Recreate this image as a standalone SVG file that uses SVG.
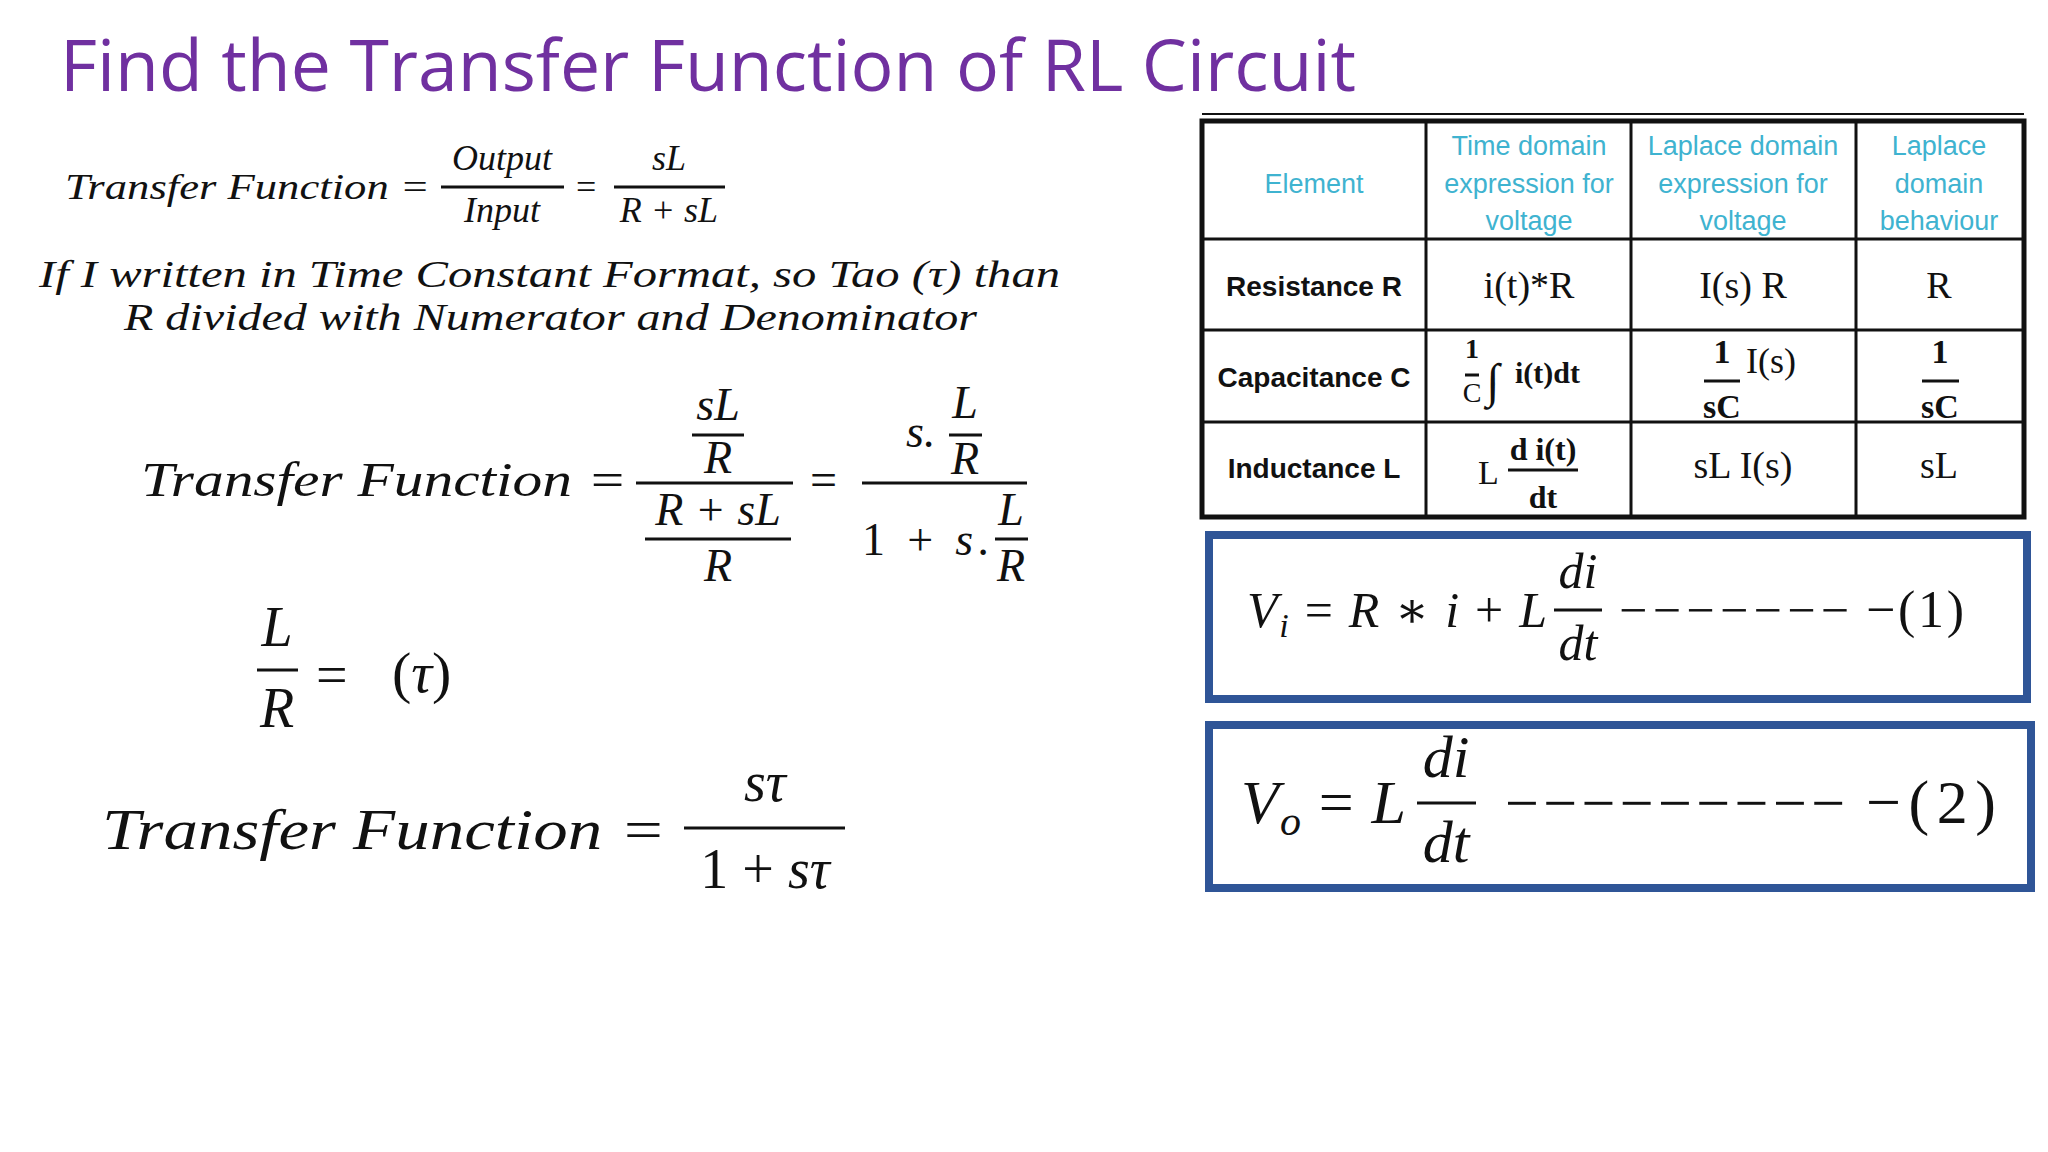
<svg xmlns="http://www.w3.org/2000/svg" width="2048" height="1152" viewBox="0 0 2048 1152">
<style>
.m{font-family:"Liberation Serif","DejaVu Serif",serif;font-style:italic;fill:#111}
.u{font-family:"Liberation Serif","DejaVu Serif",serif;fill:#111}
.h{font-family:"Liberation Sans","DejaVu Sans",sans-serif;fill:#3fb3d0;font-size:27px;text-anchor:middle}
.r{font-family:"Liberation Sans","DejaVu Sans",sans-serif;font-weight:bold;fill:#111;font-size:28px;text-anchor:middle}
.c{font-family:"Liberation Serif","DejaVu Serif",serif;fill:#111;text-anchor:middle}
.bar{stroke:#111;stroke-width:3}
.tb{stroke:#111;stroke-width:3;fill:none}
.box{fill:none;stroke:#2f5597;stroke-width:8}
</style>
<rect width="2048" height="1152" fill="#fff"/>
<text x="60" y="91" font-family="Open Sans,Liberation Sans,sans-serif" font-size="72" fill="#7030a0" textLength="1296" lengthAdjust="spacingAndGlyphs">Find the Transfer Function of RL Circuit</text>

<g id="eq1">
<text class="m" x="65" y="199" font-size="36" textLength="365" lengthAdjust="spacingAndGlyphs">Transfer Function =</text>
<text class="m" x="502" y="170" font-size="36" text-anchor="middle">Output</text>
<line class="bar" x1="441" y1="187" x2="564" y2="187"/>
<text class="m" x="502" y="222" font-size="36" text-anchor="middle">Input</text>
<text class="u" x="576" y="199" font-size="36">=</text>
<text class="m" x="669" y="170" font-size="36" text-anchor="middle">sL</text>
<line class="bar" x1="614" y1="187" x2="725" y2="187"/>
<text class="m" x="669" y="222" font-size="36" text-anchor="middle">R + sL</text>
</g>
<g id="text2">
<text class="m" x="39" y="287" font-size="38" textLength="1021" lengthAdjust="spacingAndGlyphs">If I written in Time Constant Format, so Tao (τ) than</text>
<text class="m" x="124" y="330" font-size="38" textLength="853" lengthAdjust="spacingAndGlyphs">R divided with Numerator and Denominator</text>
</g>
<g id="eq3">
<text class="m" x="141" y="496" font-size="48" textLength="486" lengthAdjust="spacingAndGlyphs">Transfer Function =</text>
<line class="bar" x1="636" y1="483" x2="793" y2="483"/>
<text class="m" x="718" y="420" font-size="46" text-anchor="middle">sL</text>
<line class="bar" x1="692" y1="435" x2="744" y2="435"/>
<text class="m" x="718" y="473" font-size="46" text-anchor="middle">R</text>
<text class="m" x="718" y="525" font-size="46" text-anchor="middle">R + sL</text>
<line class="bar" x1="645" y1="539" x2="791" y2="539"/>
<text class="m" x="718" y="581" font-size="46" text-anchor="middle">R</text>
<text class="u" x="810" y="496" font-size="48">=</text>
<line class="bar" x1="862" y1="483" x2="1027" y2="483"/>
<text class="m" x="906" y="447" font-size="46">s.</text>
<text class="m" x="965" y="418" font-size="46" text-anchor="middle">L</text>
<line class="bar" x1="949" y1="435" x2="982" y2="435"/>
<text class="m" x="965" y="474" font-size="46" text-anchor="middle">R</text>
<text class="m" x="862" y="555" font-size="46" textLength="128" lengthAdjust="spacing"><tspan font-style="normal">1 + </tspan>s.</text>
<text class="m" x="1011" y="525" font-size="46" text-anchor="middle">L</text>
<line class="bar" x1="995" y1="539" x2="1028" y2="539"/>
<text class="m" x="1011" y="581" font-size="46" text-anchor="middle">R</text>
</g>
<g id="eq4">
<text class="m" x="277" y="646" font-size="56" text-anchor="middle">L</text>
<line class="bar" x1="257" y1="670" x2="298" y2="670"/>
<text class="m" x="277" y="727" font-size="56" text-anchor="middle">R</text>
<text class="u" x="316" y="694" font-size="56">=</text>
<text class="m" x="392" y="692" font-size="58"><tspan font-style="normal">(</tspan>τ<tspan font-style="normal">)</tspan></text>
</g>
<g id="eq5">
<text class="m" x="102" y="849" font-size="56" textLength="564" lengthAdjust="spacingAndGlyphs">Transfer Function =</text>
<text class="m" x="765" y="801" font-size="56" text-anchor="middle">sτ</text>
<line class="bar" x1="684" y1="828" x2="845" y2="828"/>
<text class="m" x="765" y="888" font-size="56" text-anchor="middle"><tspan font-style="normal">1 + </tspan>sτ</text>
</g>

<g id="table">
<line x1="1202" y1="114" x2="2024" y2="114" stroke="#111" stroke-width="2"/>
<rect x="1202" y="121" width="822" height="396" fill="#fff" stroke="#111" stroke-width="5"/>
<line class="tb" x1="1426" y1="121" x2="1426" y2="517"/>
<line class="tb" x1="1631" y1="121" x2="1631" y2="517"/>
<line class="tb" x1="1856" y1="121" x2="1856" y2="517"/>
<line class="tb" x1="1202" y1="239" x2="2024" y2="239"/>
<line class="tb" x1="1202" y1="330" x2="2024" y2="330"/>
<line class="tb" x1="1202" y1="422" x2="2024" y2="422"/>
<text class="h" x="1314" y="193">Element</text>
<text class="h" x="1529" y="155">Time domain</text>
<text class="h" x="1529" y="193">expression for</text>
<text class="h" x="1529" y="230">voltage</text>
<text class="h" x="1743" y="155">Laplace domain</text>
<text class="h" x="1743" y="193">expression for</text>
<text class="h" x="1743" y="230">voltage</text>
<text class="h" x="1939" y="155">Laplace</text>
<text class="h" x="1939" y="193">domain</text>
<text class="h" x="1939" y="230">behaviour</text>
<text class="r" x="1314" y="296">Resistance R</text>
<text class="r" x="1314" y="387">Capacitance C</text>
<text class="r" x="1314" y="478">Inductance L</text>
<text class="c" x="1529" y="298" font-size="38">i(t)*R</text>
<text class="c" x="1743" y="298" font-size="38">I(s) R</text>
<text class="c" x="1939" y="298" font-size="38">R</text>
<text class="c" x="1472" y="358" font-size="28" font-weight="bold">1</text>
<line class="bar" x1="1465" y1="375" x2="1479" y2="375" stroke-width="2"/>
<text class="c" x="1472" y="402" font-size="28">C</text>
<text class="c" x="1493" y="397" font-size="48">∫</text>
<text class="u" x="1515" y="383" font-size="30" font-weight="bold">i(t)dt</text>
<text class="c" x="1722" y="363" font-size="34" font-weight="bold">1</text>
<line class="bar" x1="1704" y1="381" x2="1740" y2="381"/>
<text class="c" x="1722" y="418" font-size="34" font-weight="bold">sC</text>
<text class="u" x="1746" y="373" font-size="36">I(s)</text>
<text class="c" x="1940" y="363" font-size="34" font-weight="bold">1</text>
<line class="bar" x1="1922" y1="381" x2="1959" y2="381"/>
<text class="c" x="1940" y="418" font-size="34" font-weight="bold">sC</text>
<text class="u" x="1478" y="484" font-size="34">L</text>
<text class="c" x="1543" y="460" font-size="32" font-weight="bold">d i(t)</text>
<line class="bar" x1="1508" y1="470" x2="1578" y2="470"/>
<text class="c" x="1543" y="508" font-size="32" font-weight="bold">dt</text>
<text class="c" x="1743" y="478" font-size="38">sL I(s)</text>
<text class="c" x="1939" y="478" font-size="38">sL</text>
</g>

<g id="box1">
<rect class="box" x="1209" y="535" width="818" height="164"/>
<text class="m" x="1247" y="627" font-size="50" textLength="300" lengthAdjust="spacing">V<tspan font-size="34" dy="10">i</tspan><tspan dy="-10" font-style="normal"> = </tspan>R<tspan font-style="normal"> ∗ </tspan>i<tspan font-style="normal"> + </tspan>L</text>
<text class="m" x="1578" y="588" font-size="50" text-anchor="middle">di</text>
<line class="bar" x1="1554" y1="610" x2="1602" y2="610"/>
<text class="m" x="1578" y="660" font-size="50" text-anchor="middle">dt</text>
<text class="u" x="1619" y="627" font-size="50" textLength="230" lengthAdjust="spacing">−−−−−−−</text>
<text class="u" x="1866" y="627" font-size="52" textLength="98" lengthAdjust="spacing">−(1)</text>
</g>
<g id="box2">
<rect class="box" x="1209" y="725" width="822" height="163"/>
<text class="m" x="1241" y="823" font-size="62" textLength="165" lengthAdjust="spacing">V<tspan font-size="42" dy="12">o</tspan><tspan dy="-12" font-style="normal"> = </tspan>L</text>
<text class="m" x="1446" y="777" font-size="60" text-anchor="middle">di</text>
<line class="bar" x1="1417" y1="803" x2="1476" y2="803"/>
<text class="m" x="1446" y="862" font-size="60" text-anchor="middle">dt</text>
<text class="u" x="1505" y="823" font-size="60" textLength="340" lengthAdjust="spacing">−−−−−−−−−</text>
<text class="u" x="1866" y="823" font-size="62" textLength="130" lengthAdjust="spacing">−(2)</text>
</g>
</svg>
